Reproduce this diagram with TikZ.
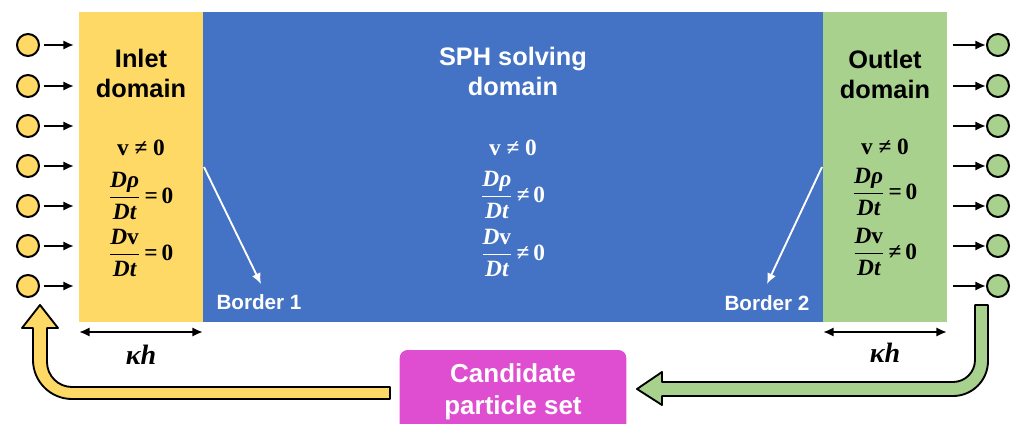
\documentclass[tikz,border=0pt]{standalone}
\usepackage{amsmath}
\usepackage{fontspec}
\setmainfont{Liberation Sans}
\newfontfamily\tnr{Liberation Serif}
\usepackage{tikz}
\usetikzlibrary{arrows.meta,shapes}
\definecolor{inletyellow}{HTML}{FFD966}
\definecolor{outletgreen}{HTML}{A9D18E}
\definecolor{sphblue}{HTML}{4472C4}
\definecolor{candmagenta}{HTML}{DF4ED0}
\newcommand{\eqbf}[1]{\text{\tnr\bfseries #1}}
\newcommand{\eqbi}[1]{\text{\tnr\bfseries\itshape #1}}

\begin{document}
\begin{tikzpicture}[x=0.75pt,y=-0.75pt,>={Latex[length=8pt,width=7pt]},line width=1.6pt]
\tikzstyle{title}=[font=\fontsize{19}{22.5}\selectfont\bfseries,align=center]
\tikzstyle{border}=[font=\fontsize{15.5}{18}\selectfont\bfseries,text=white]
\tikzstyle{eqn}=[font=\fontsize{17.5}{20}\selectfont,inner sep=0pt]
\tikzstyle{inpart}=[circle,draw=black,line width=1.5pt,fill=inletyellow,minimum size=16.5pt,inner sep=0pt]
\tikzstyle{outpart}=[circle,draw=black,line width=1.5pt,fill=outletgreen,minimum size=16.5pt,inner sep=0pt]
\tikzstyle{candbox}=[rectangle,rounded corners=6pt,fill=candmagenta,text=white,font=\fontsize{19.5}{24}\selectfont\bfseries,align=center,minimum width=170pt,minimum height=63pt]
\tikzstyle{bigarrow}=[draw=black,line width=1.4pt,line join=round]
\useasboundingbox (0,0) rectangle (1014,424);
\clip (0,0) rectangle (1014,424);

% domains
\fill[inletyellow] (79,12) rectangle (203,322);
\fill[sphblue] (203,12) rectangle (823,322);
\fill[outletgreen] (823,12) rectangle (947,322);

\node[title] (inlettitle) at (141,73) {Inlet\\domain};
\node[title,text=white] (sphtitle) at (513,71) {SPH solving\\domain};
\node[title] (outlettitle) at (885,74) {Outlet\\domain};

% conditions
\node[eqn] (inletv) at (141,148) {\eqbf{v ≠ 0}};
\node[eqn] (inletrho) at (141,196) {$\dfrac{\eqbi{D}\eqbi{ρ}}{\eqbi{Dt}}\eqbf{\,=\,0}$};
\node[eqn] (inletdv) at (141,253) {$\dfrac{\eqbi{D}\eqbf{v}}{\eqbi{Dt}}\eqbf{\,=\,0}$};
\node[eqn,text=white] (sphv) at (513,148) {\eqbf{v ≠ 0}};
\node[eqn,text=white] (sphrho) at (513,195) {$\dfrac{\eqbi{D}\eqbi{ρ}}{\eqbi{Dt}}\eqbf{\,≠\,0}$};
\node[eqn,text=white] (sphdv) at (513,253) {$\dfrac{\eqbi{D}\eqbf{v}}{\eqbi{Dt}}\eqbf{\,≠\,0}$};
\node[eqn] (outletv) at (885,147) {\eqbf{v ≠ 0}};
\node[eqn] (outletrho) at (885,192) {$\dfrac{\eqbi{D}\eqbi{ρ}}{\eqbi{Dt}}\eqbf{\,=\,0}$};
\node[eqn] (outletdv) at (885,252) {$\dfrac{\eqbi{D}\eqbf{v}}{\eqbi{Dt}}\eqbf{\,≠\,0}$};

% borders
\node[border] (border1) at (259,302) {Border 1};
\node[border] (border2) at (767,303) {Border 2};
\coordinate (b1start) at (204,167);
\coordinate (b1end) at (261,284);
\coordinate (b2start) at (822,167);
\coordinate (b2end) at (767,284);
\draw[->,white,line width=1.4pt] (b1start) -- (b1end);
\draw[->,white,line width=1.4pt] (b2start) -- (b2end);

% particles
\foreach \y [count=\i] in {45,86,126,166,206,246,286} {
  \node[inpart] (in\i) at (28,\y) {};
  \coordinate (inend\i) at (74,\y);
  \draw[->,shorten <=3pt] (in\i) -- (inend\i);
  \node[outpart] (out\i) at (998,\y) {};
  \coordinate (outstart\i) at (953,\y);
  \draw[->] (outstart\i) -- (out\i);
}

% kappa h
\coordinate (kl1) at (79,332);
\coordinate (kl2) at (203,332);
\coordinate (kr1) at (823,332);
\coordinate (kr2) at (947,332);
\draw[<->] (kl1) -- (kl2);
\draw[<->] (kr1) -- (kr2);
\node[eqn,font=\fontsize{21}{24}\selectfont] (kappaleft) at (141,355) {\eqbi{κh}};
\node[eqn,font=\fontsize{21}{24}\selectfont] (kapparight) at (885,353) {\eqbi{κh}};

% candidate set
\node[candbox] (cand) at (513,392) {Candidate\\particle set};
\draw[bigarrow,fill=inletyellow] (390,387) -- (72,387)
  arc[start angle=90,end angle=180,radius=25] -- (47,328) -- (58,328)
  -- (40,305) -- (22,328) -- (33,328) -- (33,360)
  arc[start angle=180,end angle=90,radius=39] -- (390,399) -- cycle;
\draw[bigarrow,fill=outletgreen] (975,305) -- (975,360)
  arc[start angle=0,end angle=90,radius=22] -- (662,382) -- (662,372)
  -- (637,389) -- (662,405) -- (662,396) -- (953,396)
  arc[start angle=90,end angle=0,radius=35] -- (988,305) -- cycle;
\end{tikzpicture}
\end{document}
